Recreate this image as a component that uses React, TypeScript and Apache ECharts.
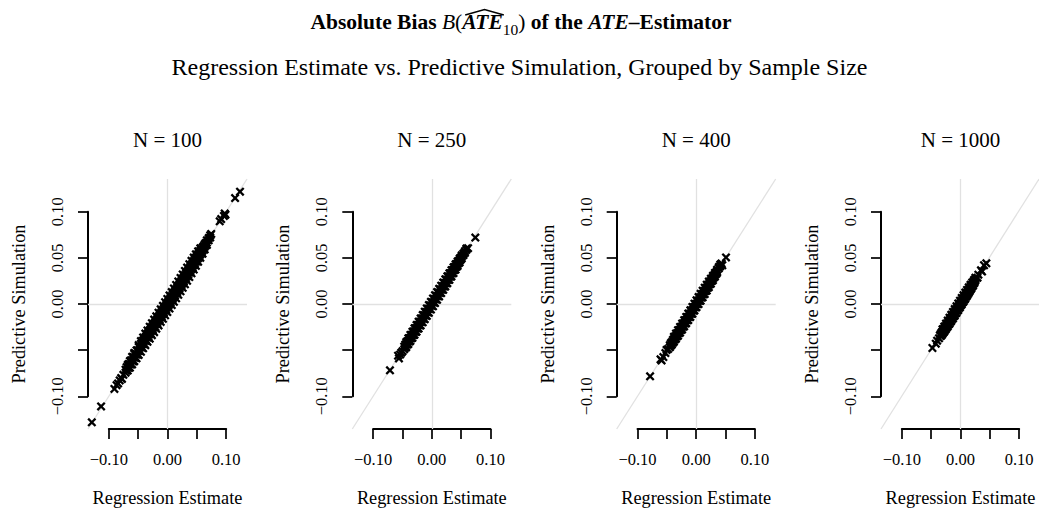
import React, { useEffect, useRef } from 'react';
import * as echarts from 'echarts';

// ---- labels ----
const mainTitleSegments = ['Absolute Bias ', 'B', '(', 'ATE', '10', ')', ' of the ', 'ATE', '–Estimator'];
const subTitle = 'Regression Estimate vs. Predictive Simulation, Grouped by Sample Size';
const panelTitles = ['N = 100', 'N = 250', 'N = 400', 'N = 1000'];
const xAxisName = 'Regression Estimate';
const yAxisName = 'Predictive Simulation';
const xLabelValues = [-0.1, 0, 0.1];
const yLabelValues = [-0.1, 0, 0.05, 0.1];

// ---- data: [regression estimate, predictive simulation] ----
const n100: [number, number][] = [
  [-0.129, -0.1282], [-0.1132, -0.111], [-0.0905, -0.0921], [-0.0868, -0.088], [-0.0842, -0.0861],
  [-0.0815, -0.0829], [-0.079, -0.0803], [-0.0776, -0.0812], [-0.0752, -0.0768],
  [-0.0715, -0.0745], [-0.0715, -0.0712],
  [-0.0678, -0.0721], [-0.0678, -0.0688], [-0.0678, -0.066],
  [-0.0641, -0.069], [-0.0641, -0.0652], [-0.0641, -0.0618],
  [-0.0603, -0.0655], [-0.0603, -0.0611], [-0.0603, -0.0572],
  [-0.0566, -0.062], [-0.0566, -0.058], [-0.0566, -0.0541], [-0.0566, -0.053],
  [-0.0528, -0.0589], [-0.0528, -0.0547], [-0.0528, -0.0503],
  [-0.0491, -0.0552], [-0.0491, -0.051], [-0.0491, -0.0466], [-0.0491, -0.0445],
  [-0.0453, -0.0518], [-0.0453, -0.047], [-0.0453, -0.0431], [-0.0453, -0.0402],
  [-0.0416, -0.048], [-0.0416, -0.0436], [-0.0416, -0.0395], [-0.0416, -0.0362],
  [-0.0378, -0.0447], [-0.0378, -0.0399], [-0.0378, -0.036], [-0.0378, -0.0321],
  [-0.0341, -0.041], [-0.0341, -0.0362], [-0.0341, -0.0322], [-0.0341, -0.0287],
  [-0.0303, -0.0376], [-0.0303, -0.0327], [-0.0303, -0.0285], [-0.0303, -0.0246],
  [-0.0266, -0.0338], [-0.0266, -0.029], [-0.0266, -0.025], [-0.0266, -0.0208],
  [-0.0228, -0.0305], [-0.0228, -0.0254], [-0.0228, -0.0212], [-0.0228, -0.0169],
  [-0.0191, -0.0268], [-0.0191, -0.0215], [-0.0191, -0.0176], [-0.0191, -0.0133],
  [-0.0153, -0.0232], [-0.0153, -0.018], [-0.0153, -0.0139], [-0.0153, -0.0094],
  [-0.0116, -0.0195], [-0.0116, -0.0143], [-0.0116, -0.0101], [-0.0116, -0.0058],
  [-0.0078, -0.016], [-0.0078, -0.0106], [-0.0078, -0.0064], [-0.0078, -0.002],
  [-0.0041, -0.0122], [-0.0041, -0.007], [-0.0041, -0.0027], [-0.0041, 0.0019],
  [-0.0003, -0.0087], [-0.0003, -0.0032], [-0.0003, 0.001], [-0.0003, 0.0055],
  [0.0034, -0.005], [0.0034, 0.0004], [0.0034, 0.0048], [0.0034, 0.0093],
  [0.0072, -0.0012], [0.0072, 0.0042], [0.0072, 0.0085], [0.0072, 0.013],
  [0.0109, 0.0024], [0.0109, 0.0079], [0.0109, 0.0123], [0.0109, 0.0168],
  [0.0147, 0.0062], [0.0147, 0.0117], [0.0147, 0.016], [0.0147, 0.0207],
  [0.0184, 0.0099], [0.0184, 0.0153], [0.0184, 0.0198], [0.0184, 0.0244],
  [0.0222, 0.0137], [0.0222, 0.0191], [0.0222, 0.0236], [0.0222, 0.0283],
  [0.0259, 0.0175], [0.0259, 0.0228], [0.0259, 0.0274], [0.0259, 0.032],
  [0.0297, 0.0213], [0.0297, 0.0266], [0.0297, 0.0312], [0.0297, 0.0358],
  [0.0334, 0.0252], [0.0334, 0.0304], [0.0334, 0.035], [0.0334, 0.0395],
  [0.0372, 0.0292], [0.0372, 0.0342], [0.0372, 0.0388], [0.0372, 0.0432],
  [0.0409, 0.0332], [0.0409, 0.038], [0.0409, 0.0426], [0.0409, 0.0468],
  [0.0447, 0.0373], [0.0447, 0.0419], [0.0447, 0.0464], [0.0447, 0.0503],
  [0.0484, 0.0414], [0.0484, 0.0458], [0.0484, 0.0502], [0.0484, 0.0538],
  [0.0522, 0.0457], [0.0522, 0.0497], [0.0522, 0.054], [0.0522, 0.0571],
  [0.0559, 0.05], [0.0559, 0.0537], [0.0559, 0.0577], [0.0559, 0.0603],
  [0.0597, 0.0545], [0.0597, 0.0578], [0.0597, 0.0613],
  [0.0634, 0.0592], [0.0634, 0.062], [0.0634, 0.0648],
  [0.0671, 0.064], [0.0671, 0.0665], [0.0671, 0.069],
  [0.0702, 0.069], [0.0702, 0.0715], [0.0728, 0.0745], [0.0728, 0.0722], [0.0745, 0.076],
  [0.089, 0.0896], [0.0915, 0.0921], [0.0962, 0.0955], [0.0975, 0.0981], [0.0988, 0.0968],
  [0.1152, 0.1148], [0.1236, 0.1218],
  [-0.0697, -0.0722], [-0.0697, -0.0685], [-0.066, -0.069], [-0.066, -0.065],
  [-0.0622, -0.0655], [-0.0622, -0.061], [-0.0585, -0.0622], [-0.0585, -0.0575],
  [-0.0547, -0.0583], [-0.0547, -0.0536], [-0.051, -0.0547], [-0.051, -0.05],
  [-0.0472, -0.0508], [-0.0472, -0.046], [-0.0435, -0.0472], [-0.0435, -0.0424],
  [-0.0397, -0.0433], [-0.0397, -0.0385], [-0.036, -0.0396], [-0.036, -0.0349],
  [-0.0322, -0.0358], [-0.0322, -0.031], [-0.0285, -0.0321], [-0.0285, -0.0273],
  [-0.0247, -0.0283], [-0.0247, -0.0235], [-0.021, -0.0246], [-0.021, -0.0197],
  [-0.0172, -0.0208], [-0.0172, -0.016], [-0.0135, -0.0171], [-0.0135, -0.0122],
  [-0.0097, -0.0133], [-0.0097, -0.0085], [-0.006, -0.0096], [-0.006, -0.0047],
  [-0.0022, -0.0058], [-0.0022, -0.001], [0.0016, -0.002], [0.0016, 0.0028],
  [0.0053, 0.0017], [0.0053, 0.0065], [0.0091, 0.0055], [0.0091, 0.0103],
  [0.0128, 0.0092], [0.0128, 0.014], [0.0166, 0.013], [0.0166, 0.0178],
  [0.0203, 0.0167], [0.0203, 0.0215], [0.0241, 0.0205], [0.0241, 0.0253],
  [0.0278, 0.0242], [0.0278, 0.0291], [0.0316, 0.028], [0.0316, 0.0329],
  [0.0353, 0.0318], [0.0353, 0.0367], [0.0391, 0.0356], [0.0391, 0.0405],
  [0.0428, 0.0395], [0.0428, 0.0443], [0.0466, 0.0434], [0.0466, 0.0481],
  [0.0503, 0.0474], [0.0503, 0.0518], [0.0541, 0.0515], [0.0541, 0.0555],
  [0.0578, 0.0556], [0.0578, 0.0592], [0.0616, 0.0598], [0.0616, 0.0628],
  [0.0653, 0.064], [0.0653, 0.0662],
];

const n250: [number, number][] = [
  [-0.0713, -0.0719], [-0.0575, -0.056], [-0.056, -0.059], [-0.054, -0.0548], [-0.052, -0.0528], [-0.0498, -0.0512],
  [-0.047, -0.049], [-0.047, -0.0462],
  [-0.0435, -0.0468], [-0.0435, -0.0438], [-0.0435, -0.0412],
  [-0.04, -0.0434], [-0.04, -0.0402], [-0.04, -0.0372],
  [-0.0365, -0.04], [-0.0365, -0.0367], [-0.0365, -0.0336],
  [-0.033, -0.0367], [-0.033, -0.0332], [-0.033, -0.03],
  [-0.0295, -0.0333], [-0.0295, -0.0297], [-0.0295, -0.0264],
  [-0.026, -0.03], [-0.026, -0.0262], [-0.026, -0.0228],
  [-0.0225, -0.0266], [-0.0225, -0.0227], [-0.0225, -0.0192],
  [-0.019, -0.0232], [-0.019, -0.0192], [-0.019, -0.0156],
  [-0.0155, -0.0198], [-0.0155, -0.0157], [-0.0155, -0.012],
  [-0.012, -0.0164], [-0.012, -0.0122], [-0.012, -0.0084],
  [-0.0085, -0.013], [-0.0085, -0.0087], [-0.0085, -0.0048],
  [-0.005, -0.0095], [-0.005, -0.0052], [-0.005, -0.0012],
  [-0.0015, -0.006], [-0.0015, -0.0017], [-0.0015, 0.0024],
  [0.002, -0.0025], [0.002, 0.0018], [0.002, 0.006],
  [0.0055, 0.001], [0.0055, 0.0053], [0.0055, 0.0095],
  [0.009, 0.0046], [0.009, 0.0088], [0.009, 0.013],
  [0.0125, 0.0082], [0.0125, 0.0123], [0.0125, 0.0165],
  [0.016, 0.0118], [0.016, 0.0158], [0.016, 0.0199],
  [0.0195, 0.0154], [0.0195, 0.0193], [0.0195, 0.0233],
  [0.023, 0.019], [0.023, 0.0228], [0.023, 0.0267],
  [0.0265, 0.0226], [0.0265, 0.0263], [0.0265, 0.03],
  [0.03, 0.0262], [0.03, 0.0298], [0.03, 0.0333],
  [0.0335, 0.0299], [0.0335, 0.0333], [0.0335, 0.0366],
  [0.037, 0.0336], [0.037, 0.0368], [0.037, 0.0398],
  [0.0405, 0.0374], [0.0405, 0.0403], [0.0405, 0.043],
  [0.044, 0.0412], [0.044, 0.0438], [0.044, 0.0461],
  [0.0475, 0.0452], [0.0475, 0.0474], [0.0475, 0.0492],
  [0.051, 0.0494], [0.051, 0.0512], [0.051, 0.0528],
  [0.054, 0.053], [0.054, 0.0548], [0.0565, 0.0555], [0.0565, 0.0572], [0.059, 0.0588], [0.059, 0.0601],
  [0.0618, 0.0605], [0.0742, 0.072],
  [-0.0452, -0.0472], [-0.0452, -0.044], [-0.0417, -0.044], [-0.0417, -0.0405],
  [-0.0382, -0.0406], [-0.0382, -0.037], [-0.0347, -0.0372], [-0.0347, -0.0335],
  [-0.0312, -0.0336], [-0.0312, -0.0299], [-0.0277, -0.0301], [-0.0277, -0.0264],
  [-0.0242, -0.0266], [-0.0242, -0.0228], [-0.0207, -0.0231], [-0.0207, -0.0193],
  [-0.0172, -0.0196], [-0.0172, -0.0158], [-0.0137, -0.016], [-0.0137, -0.0122],
  [-0.0102, -0.0125], [-0.0102, -0.0087], [-0.0067, -0.009], [-0.0067, -0.0052],
  [-0.0032, -0.0055], [-0.0032, -0.0016], [0.0003, -0.002], [0.0003, 0.0019],
  [0.0038, 0.0015], [0.0038, 0.0054], [0.0073, 0.005], [0.0073, 0.0089],
  [0.0108, 0.0085], [0.0108, 0.0124], [0.0143, 0.012], [0.0143, 0.0158],
  [0.0178, 0.0155], [0.0178, 0.0193], [0.0213, 0.0191], [0.0213, 0.0228],
  [0.0248, 0.0226], [0.0248, 0.0263], [0.0283, 0.0262], [0.0283, 0.0297],
  [0.0318, 0.0297], [0.0318, 0.0332], [0.0353, 0.0333], [0.0353, 0.0366],
  [0.0388, 0.0369], [0.0388, 0.04], [0.0423, 0.0405], [0.0423, 0.0433],
  [0.0458, 0.0442], [0.0458, 0.0466], [0.0492, 0.048], [0.0492, 0.05],
];

const n400: [number, number][] = [
  [-0.0786, -0.0784], [-0.0608, -0.06], [-0.059, -0.0612], [-0.056, -0.0575], [-0.0525, -0.0532], [-0.0505, -0.0498], [-0.048, -0.0488],
  [-0.045, -0.047], [-0.045, -0.0446],
  [-0.0415, -0.044], [-0.0415, -0.0412],
  [-0.038, -0.0408], [-0.038, -0.038], [-0.038, -0.0356],
  [-0.0345, -0.0376], [-0.0345, -0.0346], [-0.0345, -0.032],
  [-0.031, -0.0344], [-0.031, -0.0312], [-0.031, -0.0284],
  [-0.0275, -0.031], [-0.0275, -0.0277], [-0.0275, -0.0248],
  [-0.024, -0.0276], [-0.024, -0.0242], [-0.024, -0.0212],
  [-0.0205, -0.0242], [-0.0205, -0.0207], [-0.0205, -0.0176],
  [-0.017, -0.0208], [-0.017, -0.0172], [-0.017, -0.014],
  [-0.0135, -0.0174], [-0.0135, -0.0137], [-0.0135, -0.0104],
  [-0.01, -0.014], [-0.01, -0.0102], [-0.01, -0.0068],
  [-0.0065, -0.0105], [-0.0065, -0.0067], [-0.0065, -0.0032],
  [-0.003, -0.007], [-0.003, -0.0032], [-0.003, 0.0004],
  [0.0005, -0.0035], [0.0005, 0.0003], [0.0005, 0.004],
  [0.004, 0.0], [0.004, 0.0038], [0.004, 0.0075],
  [0.0075, 0.0036], [0.0075, 0.0073], [0.0075, 0.011],
  [0.011, 0.0072], [0.011, 0.0108], [0.011, 0.0144],
  [0.0145, 0.0108], [0.0145, 0.0143], [0.0145, 0.0177],
  [0.018, 0.0145], [0.018, 0.0178], [0.018, 0.021],
  [0.0215, 0.0182], [0.0215, 0.0213], [0.0215, 0.0243],
  [0.025, 0.022], [0.025, 0.0248], [0.025, 0.0275],
  [0.0285, 0.0258], [0.0285, 0.0283], [0.0285, 0.0306],
  [0.032, 0.0298], [0.032, 0.0318], [0.032, 0.0337],
  [0.0355, 0.0338], [0.0355, 0.0355], [0.0355, 0.037],
  [0.0385, 0.0385], [0.0385, 0.04], [0.041, 0.041], [0.041, 0.0428],
  [0.0432, 0.044], [0.0445, 0.042], [0.0508, 0.0505],
  [-0.0432, -0.0452], [-0.0432, -0.0425], [-0.0397, -0.042], [-0.0397, -0.039],
  [-0.0362, -0.0386], [-0.0362, -0.0355], [-0.0327, -0.0352], [-0.0327, -0.032],
  [-0.0292, -0.0317], [-0.0292, -0.0284], [-0.0257, -0.0282], [-0.0257, -0.0249],
  [-0.0222, -0.0247], [-0.0222, -0.0214], [-0.0187, -0.0212], [-0.0187, -0.0178],
  [-0.0152, -0.0177], [-0.0152, -0.0143], [-0.0117, -0.0141], [-0.0117, -0.0108],
  [-0.0082, -0.0106], [-0.0082, -0.0073], [-0.0047, -0.0071], [-0.0047, -0.0037],
  [-0.0012, -0.0036], [-0.0012, -0.0002], [0.0022, -0.0001], [0.0022, 0.0033],
  [0.0057, 0.0034], [0.0057, 0.0068], [0.0092, 0.007], [0.0092, 0.0103],
  [0.0127, 0.0105], [0.0127, 0.0138], [0.0162, 0.0141], [0.0162, 0.0172],
  [0.0197, 0.0177], [0.0197, 0.0206], [0.0232, 0.0213], [0.0232, 0.024],
  [0.0267, 0.025], [0.0267, 0.0273], [0.0302, 0.0288], [0.0302, 0.0305],
  [0.0337, 0.0325], [0.0337, 0.034],
];

const n1000: [number, number][] = [
  [-0.0473, -0.0477], [-0.0415, -0.043], [-0.0392, -0.0398], [-0.036, -0.0372], [-0.0345, -0.034],
  [-0.033, -0.0348], [-0.033, -0.0325],
  [-0.03, -0.0325], [-0.03, -0.0298], [-0.03, -0.0275],
  [-0.027, -0.0298], [-0.027, -0.0268], [-0.027, -0.0244],
  [-0.024, -0.027], [-0.024, -0.0238], [-0.024, -0.0212],
  [-0.021, -0.0242], [-0.021, -0.0208], [-0.021, -0.018],
  [-0.018, -0.0213], [-0.018, -0.0178], [-0.018, -0.0148],
  [-0.015, -0.0184], [-0.015, -0.0148], [-0.015, -0.0117],
  [-0.012, -0.0155], [-0.012, -0.0118], [-0.012, -0.0086],
  [-0.009, -0.0125], [-0.009, -0.0088], [-0.009, -0.0055],
  [-0.006, -0.0095], [-0.006, -0.0058], [-0.006, -0.0024],
  [-0.003, -0.0065], [-0.003, -0.0028], [-0.003, 0.0006],
  [0.0, -0.0035], [0.0, 0.0002], [0.0, 0.0036],
  [0.003, -0.0004], [0.003, 0.0032], [0.003, 0.0066],
  [0.006, 0.0027], [0.006, 0.0062], [0.006, 0.0095],
  [0.009, 0.0058], [0.009, 0.0092], [0.009, 0.0124],
  [0.012, 0.009], [0.012, 0.0122], [0.012, 0.0153],
  [0.015, 0.0122], [0.015, 0.0152], [0.015, 0.0181],
  [0.018, 0.0155], [0.018, 0.0182], [0.018, 0.0208],
  [0.021, 0.0189], [0.021, 0.0212], [0.021, 0.0234],
  [0.024, 0.0224], [0.024, 0.0242], [0.024, 0.026],
  [0.0265, 0.0258], [0.0265, 0.0272], [0.0265, 0.0285],
  [0.03, 0.0285], [0.0315, 0.0318], [0.036, 0.0365], [0.0378, 0.0352], [0.0412, 0.042], [0.0452, 0.0441],
  [-0.0315, -0.0336], [-0.0315, -0.0308], [-0.0285, -0.031], [-0.0285, -0.028],
  [-0.0255, -0.0281], [-0.0255, -0.025], [-0.0225, -0.0252], [-0.0225, -0.022],
  [-0.0195, -0.0222], [-0.0195, -0.019], [-0.0165, -0.0193], [-0.0165, -0.016],
  [-0.0135, -0.0163], [-0.0135, -0.013], [-0.0105, -0.0133], [-0.0105, -0.01],
  [-0.0075, -0.0103], [-0.0075, -0.007], [-0.0045, -0.0073], [-0.0045, -0.004],
  [-0.0015, -0.0043], [-0.0015, -0.001], [0.0015, -0.0013], [0.0015, 0.002],
  [0.0045, 0.0017], [0.0045, 0.005], [0.0075, 0.0047], [0.0075, 0.008],
  [0.0105, 0.0078], [0.0105, 0.011], [0.0135, 0.0108], [0.0135, 0.0139],
  [0.0165, 0.0139], [0.0165, 0.0168], [0.0195, 0.017], [0.0195, 0.0196],
  [0.0225, 0.0203], [0.0225, 0.0224], [0.0252, 0.0238], [0.0252, 0.0255],
];

const panels = [n100, n250, n400, n1000];

// ---- layout ----
const FONT = 'Liberation Serif';
const LIM = 0.1355;
const PLOT_TOP = 179;
const PLOT_W = 159;
const PLOT_H = 250;
const PLOT_LEFTS = [88, 352.3, 616.7, 881];
const CENTER_X = 521;

// filled "x" glyph (pch 4 style)
const crossPath =
  'path://M0,1.8L1.8,0L5,3.2L8.2,0L10,1.8L6.8,5L10,8.2L8.2,10L5,6.8L1.8,10L0,8.2L3.2,5Z';

const fmt = (v: number) => {
  const r = Math.round(v * 100) / 100;
  return (r < 0 ? '−' : '') + Math.abs(r).toFixed(2);
};
const pick = (list: number[]) => (v: number) =>
  list.some((t) => Math.abs(t - v) < 1e-6) ? fmt(v) : '';

function measure(text: string, font: string) {
  const ctx = document.createElement('canvas').getContext('2d')!;
  ctx.font = font;
  return ctx.measureText(text).width;
}

export default function App() {
  const ref = useRef<HTMLDivElement>(null);

  useEffect(() => {
    const chart = echarts.init(ref.current!, undefined, { renderer: 'svg' });

    const pxX = PLOT_W / (2 * LIM);
    const pxY = PLOT_H / (2 * LIM);
    const axOffX = (LIM - 0.1) * pxX;
    const axOffY = (LIM - 0.1) * pxY;

    const grid: any[] = [];
    const xAxis: any[] = [];
    const yAxis: any[] = [];
    const series: any[] = [];
    const graphic: any[] = [];

    const tickLabelStyle = { fontFamily: FONT, fontSize: 16.5, color: '#000' };
    const nameStyle = { fontFamily: FONT, fontSize: 18.3, color: '#000' };
    const axisLine = { show: true, onZero: false, lineStyle: { color: '#000', width: 2 } };
    const axisTick = { show: true, inside: false, length: 10, lineStyle: { color: '#000', width: 1.7 } };

    PLOT_LEFTS.forEach((left, i) => {
      // plotting region
      grid.push({ left, top: PLOT_TOP, width: PLOT_W, height: PLOT_H, containLabel: false });
      // axis region spanning -0.10..0.10
      grid.push({
        left: left + axOffX,
        top: PLOT_TOP + axOffY,
        width: 0.2 * pxX,
        height: 0.2 * pxY,
        containLabel: false,
      });
      const g = 2 * i;
      xAxis.push({ gridIndex: g, type: 'value', min: -LIM, max: LIM, show: false });
      yAxis.push({ gridIndex: g, type: 'value', min: -LIM, max: LIM, show: false });
      xAxis.push({
        gridIndex: g + 1,
        type: 'value',
        min: -0.1,
        max: 0.1,
        interval: 0.05,
        position: 'bottom',
        offset: axOffY,
        axisLine,
        axisTick,
        axisLabel: { ...tickLabelStyle, margin: 22, formatter: pick(xLabelValues), hideOverlap: false },
        splitLine: { show: false },
        name: xAxisName,
        nameLocation: 'middle',
        nameGap: 60,
        nameTextStyle: nameStyle,
      });
      yAxis.push({
        gridIndex: g + 1,
        type: 'value',
        min: -0.1,
        max: 0.1,
        interval: 0.05,
        position: 'left',
        offset: axOffX,
        axisLine,
        axisTick,
        axisLabel: { ...tickLabelStyle, rotate: 90, margin: 22, formatter: pick(yLabelValues), hideOverlap: false },
        splitLine: { show: false },
        name: yAxisName,
        nameLocation: 'middle',
        nameGap: 60,
        nameTextStyle: nameStyle,
      });

      // reference lines beneath the points: x = 0, y = 0, y = x
      series.push({
        type: 'scatter',
        xAxisIndex: g,
        yAxisIndex: g,
        data: [],
        z: 1,
        silent: true,
        markLine: {
          z: 1,
          silent: true,
          symbol: ['none', 'none'],
          label: { show: false },
          lineStyle: { color: '#e1e1e1', width: 1.3, type: 'solid' },
          data: [
            { xAxis: 0 },
            { yAxis: 0 },
            [{ coord: [-LIM, -LIM] }, { coord: [LIM, LIM] }],
          ],
        },
      });
      series.push({
        type: 'scatter',
        xAxisIndex: g,
        yAxisIndex: g,
        data: panels[i],
        symbol: crossPath,
        symbolSize: 9,
        itemStyle: { color: '#000', opacity: 1 },
        z: 10,
        silent: true,
      });

      graphic.push({
        type: 'text',
        x: left + PLOT_W / 2,
        y: 140,
        style: {
          text: panelTitles[i],
          fontFamily: FONT,
          fontSize: 21,
          fill: '#000',
          align: 'center',
          verticalAlign: 'middle',
        },
      });
    });

    // main title with math notation
    const T = 21.5;
    const S = 15.5;
    const LH = 30;
    const fB = `bold ${T}px "${FONT}"`;
    const fI = `italic ${T}px "${FONT}"`;
    const fR = `${T}px "${FONT}"`;
    const fBI = `italic bold ${T}px "${FONT}"`;
    const fS = `${S}px "${FONT}"`;
    const segFonts = [fB, fI, fR, fBI, fS, fR, fB, fBI, fB];
    const widths = mainTitleSegments.map((s, k) => measure(s, segFonts[k]));
    const total = widths.reduce((a, b) => a + b, 0);
    const startX = CENTER_X - total / 2;
    const ateStart = startX + widths[0] + widths[1] + widths[2];
    const ateEnd = ateStart + widths[3];
    const TITLE_Y = 22;

    graphic.push({
      type: 'text',
      x: CENTER_X,
      y: TITLE_Y,
      style: {
        text:
          `{b|${mainTitleSegments[0]}}{mi|${mainTitleSegments[1]}}{mr|${mainTitleSegments[2]}}` +
          `{bi|${mainTitleSegments[3]}}{sub|${mainTitleSegments[4]}}{mr|${mainTitleSegments[5]}}` +
          `{b|${mainTitleSegments[6]}}{bi|${mainTitleSegments[7]}}{b|${mainTitleSegments[8]}}`,
        align: 'center',
        verticalAlign: 'middle',
        fill: '#000',
        rich: {
          b: { fontFamily: FONT, fontWeight: 'bold', fontSize: T, lineHeight: LH, fill: '#000' },
          mi: { fontFamily: FONT, fontStyle: 'italic', fontSize: T, lineHeight: LH, fill: '#000' },
          mr: { fontFamily: FONT, fontSize: T, lineHeight: LH, fill: '#000' },
          bi: { fontFamily: FONT, fontStyle: 'italic', fontWeight: 'bold', fontSize: T, lineHeight: LH, fill: '#000' },
          sub: { fontFamily: FONT, fontSize: S, lineHeight: 15, verticalAlign: 'bottom', fill: '#000' },
        },
      },
    });
    // wide hat over ATE
    graphic.push({
      type: 'polyline',
      shape: {
        points: [
          [ateStart + 3, TITLE_Y - 7],
          [(ateStart + ateEnd) / 2 + 2, TITLE_Y - 12.5],
          [ateEnd + 1, TITLE_Y - 7],
        ],
      },
      style: { stroke: '#000', lineWidth: 1.6, fill: 'none' },
    });

    graphic.push({
      type: 'text',
      x: 519.5,
      y: 67,
      style: {
        text: subTitle,
        fontFamily: FONT,
        fontSize: 24,
        fill: '#000',
        align: 'center',
        verticalAlign: 'middle',
      },
    });

    chart.setOption({
      animation: false,
      backgroundColor: '#fff',
      grid,
      xAxis,
      yAxis,
      series,
      graphic,
    });

    return () => chart.dispose();
  }, []);

  return (
    <div
      ref={ref}
      style={{ position: 'absolute', left: 0, top: 0, width: 1039, height: 510, background: '#fff' }}
    />
  );
}
